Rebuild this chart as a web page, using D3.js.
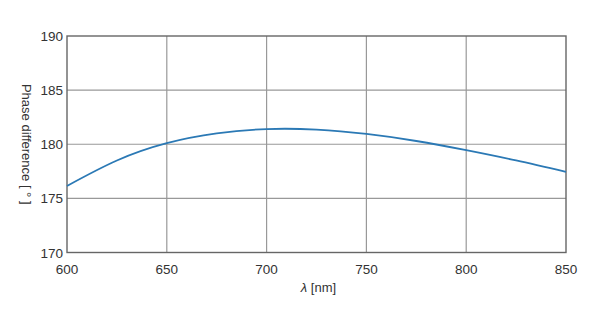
<!DOCTYPE html>
<html>
<head>
<meta charset="utf-8">
<script src="https://cdn.jsdelivr.net/npm/d3@7"></script>
<style>
  body { margin: 0; background: #fff; }
  svg { display: block; font-family: "Liberation Sans", Arial, sans-serif; }
</style>
</head>
<body>
<div id="chart"></div>
<script>
'use strict';

// wavelength [nm] and phase difference [deg]
const wavelengths = [600, 625, 650, 675, 700, 725, 750, 775, 800, 825, 850]
const phaseDiff = [176.15, 178.5, 180.1, 181.0, 181.4, 181.35, 180.95, 180.3, 179.45, 178.5, 177.45]
const xTicks = [600, 650, 700, 750, 800, 850]
const yTicks = [170, 175, 180, 185, 190]

const width = 600, height = 320
const margin = { top: 36, right: 34, bottom: 67.5, left: 67 }

const svg = d3.select('#chart').append('svg')
    .attr('width', width)
    .attr('height', height)

const x = d3.scaleLinear()
    .domain([600, 850])
    .range([margin.left, width - margin.right])

const y = d3.scaleLinear()
    .domain([170, 190])
    .range([height - margin.bottom, margin.top])

// grid
svg.append('g')
    .selectAll('line.vx')
    .data(xTicks.slice(1, -1))
    .join('line')
    .attr('x1', d => x(d)).attr('x2', d => x(d))
    .attr('y1', y(170)).attr('y2', y(190))
    .attr('stroke', '#999').attr('stroke-width', 1.2)

svg.append('g')
    .selectAll('line.hy')
    .data(yTicks.slice(1, -1))
    .join('line')
    .attr('x1', x(600)).attr('x2', x(850))
    .attr('y1', d => y(d)).attr('y2', d => y(d))
    .attr('stroke', '#999').attr('stroke-width', 1.2)

// frame
svg.append('rect')
    .attr('x', x(600)).attr('y', y(190))
    .attr('width', x(850) - x(600))
    .attr('height', y(170) - y(190))
    .attr('fill', 'none')
    .attr('stroke', '#666').attr('stroke-width', 1.4)

// curve
const line = d3.line()
    .x((d, i) => x(wavelengths[i]))
    .y(d => y(d))
    .curve(d3.curveNatural)

svg.append('path')
    .datum(phaseDiff)
    .attr('d', line)
    .attr('fill', 'none')
    .attr('stroke', '#2b79b5')
    .attr('stroke-width', 1.8)

// tick labels
svg.append('g')
    .selectAll('text')
    .data(xTicks)
    .join('text')
    .attr('x', d => x(d))
    .attr('y', y(170) + 21)
    .attr('text-anchor', 'middle')
    .attr('font-size', 13.5)
    .attr('fill', '#333')
    .text(d => d)

svg.append('g')
    .selectAll('text')
    .data(yTicks)
    .join('text')
    .attr('x', x(600) - 4)
    .attr('y', d => y(d) + 5)
    .attr('text-anchor', 'end')
    .attr('font-size', 13.5)
    .attr('fill', '#333')
    .text(d => d)

// axis titles
const xt = svg.append('text')
    .attr('x', (x(600) + x(850)) / 2 + 2)
    .attr('y', 292)
    .attr('text-anchor', 'middle')
    .attr('font-size', 13)
    .attr('fill', '#333')
xt.append('tspan').attr('font-style', 'italic').text('λ')
xt.append('tspan').text(' [nm]')

svg.append('text')
    .attr('transform', `translate(22, ${(y(170) + y(190)) / 2}) rotate(90)`)
    .attr('text-anchor', 'middle')
    .attr('font-size', 13)
    .attr('fill', '#333')
    .text('Phase difference [ ° ]')
</script>
</body>
</html>
